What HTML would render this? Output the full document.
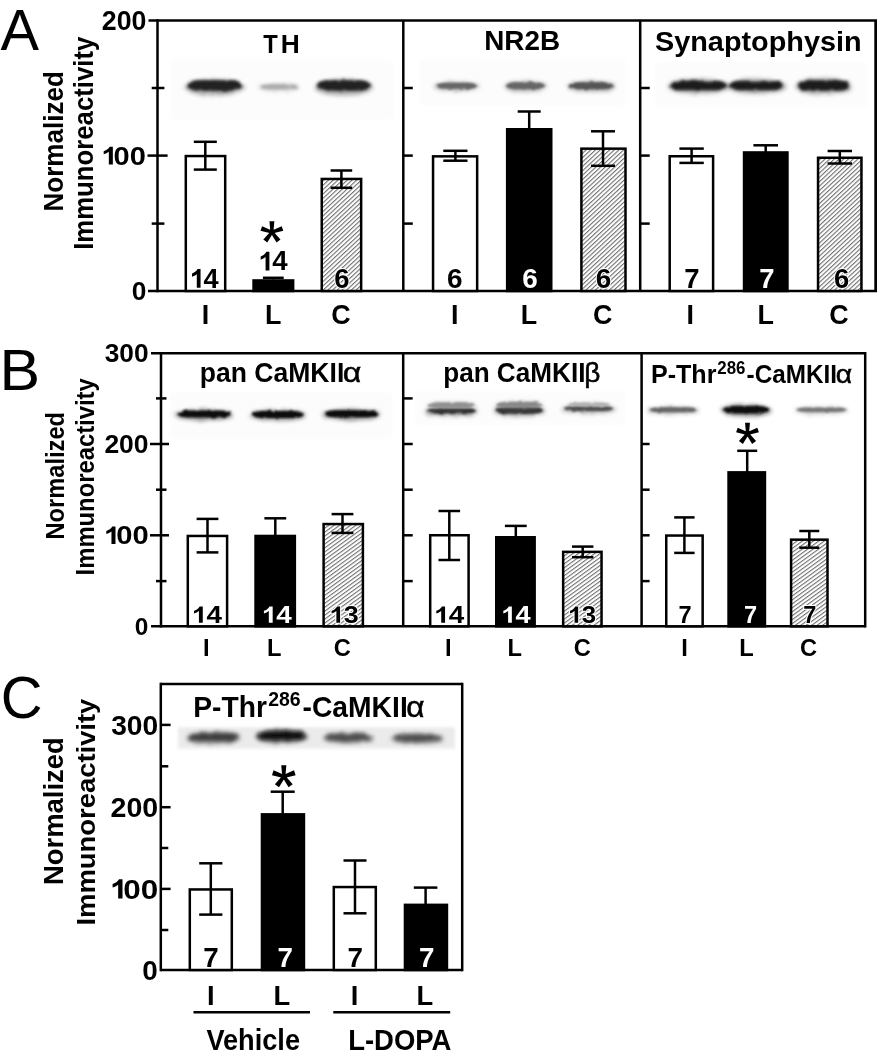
<!DOCTYPE html>
<html><head><meta charset="utf-8"><title>Figure</title>
<style>
html,body{margin:0;padding:0;background:#fff;}
body{width:877px;height:1050px;overflow:hidden;font-family:"Liberation Sans",sans-serif;}
svg{display:block;font-family:"Liberation Sans",sans-serif;}
</style></head><body>
<svg width="877" height="1050" viewBox="0 0 877 1050">
<defs>
<pattern id="hatch" width="3.2" height="3.2" patternUnits="userSpaceOnUse" patternTransform="rotate(-43)">
<rect width="3.2" height="3.2" fill="#fff"/><rect y="0" width="3.2" height="1.1" fill="#707070"/>
</pattern>
<pattern id="hatchB" width="3.2" height="3.2" patternUnits="userSpaceOnUse" patternTransform="rotate(-36)">
<rect width="3.2" height="3.2" fill="#fff"/><rect y="0" width="3.2" height="1.1" fill="#707070"/>
</pattern>
<filter id="soft" filterUnits="userSpaceOnUse" x="0" y="0" width="877" height="1050"><feGaussianBlur stdDeviation="0.55"/></filter>
<filter id="bl2" x="-10%" y="-30%" width="120%" height="160%"><feGaussianBlur stdDeviation="2"/></filter>
<filter id="rough12" x="-20%" y="-300%" width="140%" height="700%"><feTurbulence type="fractalNoise" baseFrequency="0.18 0.35" numOctaves="2" seed="3" result="n"/><feDisplacementMap in="SourceGraphic" in2="n" scale="2.5" xChannelSelector="R" yChannelSelector="G"/><feGaussianBlur stdDeviation="1.0"/></filter>
<filter id="rough15" x="-20%" y="-300%" width="140%" height="700%"><feTurbulence type="fractalNoise" baseFrequency="0.18 0.35" numOctaves="2" seed="5" result="n"/><feDisplacementMap in="SourceGraphic" in2="n" scale="3" xChannelSelector="R" yChannelSelector="G"/><feGaussianBlur stdDeviation="1.2"/></filter>
<filter id="rough20" x="-20%" y="-300%" width="140%" height="700%"><feTurbulence type="fractalNoise" baseFrequency="0.15 0.3" numOctaves="2" seed="7" result="n"/><feDisplacementMap in="SourceGraphic" in2="n" scale="3.5" xChannelSelector="R" yChannelSelector="G"/><feGaussianBlur stdDeviation="1.5"/></filter>
<filter id="rough25" x="-20%" y="-300%" width="140%" height="700%"><feTurbulence type="fractalNoise" baseFrequency="0.15 0.3" numOctaves="2" seed="11" result="n"/><feDisplacementMap in="SourceGraphic" in2="n" scale="4" xChannelSelector="R" yChannelSelector="G"/><feGaussianBlur stdDeviation="1.9"/></filter>
<filter id="bl12" x="-20%" y="-200%" width="140%" height="500%"><feGaussianBlur stdDeviation="1.2"/></filter>
<filter id="bl15" x="-20%" y="-200%" width="140%" height="500%"><feGaussianBlur stdDeviation="1.5"/></filter>
<filter id="bl20" x="-20%" y="-200%" width="140%" height="500%"><feGaussianBlur stdDeviation="2"/></filter>
<filter id="bl25" x="-20%" y="-200%" width="140%" height="500%"><feGaussianBlur stdDeviation="2.5"/></filter>
</defs>
<rect width="877" height="1050" fill="#fff"/>
<g filter="url(#soft)">
<line x1="157.50" y1="19.25" x2="157.50" y2="292.25" stroke="#000" stroke-width="2.5"/>
<line x1="148.50" y1="20.50" x2="877.50" y2="20.50" stroke="#000" stroke-width="2.5"/>
<line x1="148.00" y1="291.00" x2="877.50" y2="291.00" stroke="#000" stroke-width="2.5"/>
<line x1="875.80" y1="20.50" x2="875.80" y2="291.00" stroke="#000" stroke-width="3.0"/>
<line x1="403.30" y1="20.50" x2="403.30" y2="291.00" stroke="#000" stroke-width="2.5"/>
<line x1="640.20" y1="20.50" x2="640.20" y2="291.00" stroke="#000" stroke-width="2.5"/>
<line x1="147.50" y1="155.60" x2="167.60" y2="155.60" stroke="#000" stroke-width="2.5"/>
<line x1="151.70" y1="88.00" x2="164.40" y2="88.00" stroke="#000" stroke-width="2.5"/>
<line x1="151.70" y1="223.60" x2="164.40" y2="223.60" stroke="#000" stroke-width="2.5"/>
<line x1="403.30" y1="88.00" x2="412.80" y2="88.00" stroke="#000" stroke-width="2.5"/>
<line x1="403.30" y1="155.60" x2="412.80" y2="155.60" stroke="#000" stroke-width="2.5"/>
<line x1="403.30" y1="223.60" x2="412.80" y2="223.60" stroke="#000" stroke-width="2.5"/>
<line x1="640.20" y1="88.00" x2="649.70" y2="88.00" stroke="#000" stroke-width="2.5"/>
<line x1="640.20" y1="155.60" x2="649.70" y2="155.60" stroke="#000" stroke-width="2.5"/>
<line x1="640.20" y1="223.60" x2="649.70" y2="223.60" stroke="#000" stroke-width="2.5"/>
<text transform="translate(101.77,30.00) scale(1.0000,1)" font-size="26.74" font-weight="bold" fill="#000">200</text>
<g transform="translate(97.42,164.60) scale(1.1166,1)" fill="#000"><path d="M13.82,0.00 L10.23,0.00 L10.23,-12.93 Q8.27,-11.18 5.62,-10.33 L5.62,-13.43 Q7.02,-13.88 8.66,-15.10 Q10.30,-16.33 10.93,-17.90 L13.82,-17.90 Z"/><text x="14.47" y="0" font-size="26.02" font-weight="bold">00</text></g>
<text transform="translate(131.85,300.30) scale(1.0000,1)" font-size="26.31" font-weight="bold" fill="#000">0</text>
<text transform="translate(62.95,211.54) rotate(-90) scale(0.9486,1)" font-size="27.47" font-weight="bold">Normalized</text>
<text transform="translate(93.25,249.82) rotate(-90) scale(0.9181,1)" font-size="28.05" font-weight="bold">Immunoreactivity</text>
<text transform="translate(0.59,50.00) scale(1.0137,1)" font-size="56.98" font-weight="normal" fill="#000">A</text>
<rect x="170.3" y="60.0" width="223.5" height="59.7" fill="#fcfcfc" filter="url(#bl2)"/>
<ellipse cx="214.8" cy="87.4" rx="29.6" ry="8.2" fill="#222" opacity="0.38" filter="url(#rough25)"/>
<path d="M187.2,85.6 C189.9,80.3 196.2,80.3 201.6,80.3 L227.9,80.3 C233.3,80.3 239.6,80.3 242.3,85.6 C239.6,90.8 233.3,90.8 227.9,90.8 L201.6,90.8 C196.2,90.8 189.9,90.8 187.2,85.6Z" fill="#222" opacity="1" filter="url(#rough20)"/>
<ellipse cx="278.9" cy="87.6" rx="20.6" ry="3.9" fill="#aaa" opacity="0.45" filter="url(#rough25)"/>
<path d="M260.3,86.8 C262.5,84.3 267.5,84.3 271.9,84.3 L285.9,84.3 C290.3,84.3 295.3,84.3 297.5,86.8 C295.3,89.3 290.3,89.3 285.9,89.3 L271.9,89.3 C267.5,89.3 262.5,89.3 260.3,86.8Z" fill="#aaa" opacity="1" filter="url(#rough20)"/>
<ellipse cx="343.7" cy="87.4" rx="29.2" ry="8.2" fill="#222" opacity="0.38" filter="url(#rough25)"/>
<path d="M316.5,85.6 C319.2,80.3 325.5,80.3 330.9,80.3 L356.5,80.3 C361.9,80.3 368.2,80.3 370.9,85.6 C368.2,90.8 361.9,90.8 356.5,90.8 L330.9,90.8 C325.5,90.8 319.2,90.8 316.5,85.6Z" fill="#222" opacity="1" filter="url(#rough20)"/>
<rect x="420.0" y="59.5" width="206.0" height="46.3" fill="#fcfcfc" filter="url(#bl2)"/>
<ellipse cx="456.7" cy="86.5" rx="23.2" ry="4.7" fill="#666" opacity="0.45" filter="url(#rough25)"/>
<path d="M435.5,85.7 C438.0,82.7 443.7,82.7 448.6,82.7 L464.8,82.7 C469.7,82.7 475.4,82.7 477.9,85.7 C475.4,88.7 469.7,88.7 464.8,88.7 L448.6,88.7 C443.7,88.7 438.0,88.7 435.5,85.7Z" fill="#666" opacity="1" filter="url(#rough15)"/>
<ellipse cx="525.4" cy="86.5" rx="21.5" ry="5.5" fill="#666" opacity="0.45" filter="url(#rough25)"/>
<path d="M505.8,85.7 C508.1,82.2 513.4,82.2 517.9,82.2 L532.8,82.2 C537.3,82.2 542.6,82.2 544.9,85.7 C542.6,89.2 537.3,89.2 532.8,89.2 L517.9,89.2 C513.4,89.2 508.1,89.2 505.8,85.7Z" fill="#666" opacity="1" filter="url(#rough15)"/>
<ellipse cx="591.2" cy="86.5" rx="24.4" ry="5.5" fill="#555" opacity="0.45" filter="url(#rough25)"/>
<path d="M568.7,85.7 C571.3,82.2 577.3,82.2 582.5,82.2 L599.8,82.2 C605.0,82.2 611.0,82.2 613.6,85.7 C611.0,89.2 605.0,89.2 599.8,89.2 L582.5,89.2 C577.3,89.2 571.3,89.2 568.7,85.7Z" fill="#555" opacity="1" filter="url(#rough15)"/>
<rect x="655.0" y="62.7" width="212.6" height="44.0" fill="#fcfcfc" filter="url(#bl2)"/>
<ellipse cx="698.5" cy="86.4" rx="30.6" ry="7.4" fill="#1a1a1a" opacity="0.35" filter="url(#rough25)"/>
<path d="M669.9,85.6 C672.6,80.8 678.9,80.8 684.3,80.8 L712.6,80.8 C718.0,80.8 724.3,80.8 727.0,85.6 C724.3,90.3 718.0,90.3 712.6,90.3 L684.3,90.3 C678.9,90.3 672.6,90.3 669.9,85.6Z" fill="#1a1a1a" opacity="1" filter="url(#rough20)"/>
<ellipse cx="756.5" cy="86.4" rx="29.6" ry="7.4" fill="#1a1a1a" opacity="0.35" filter="url(#rough25)"/>
<path d="M729.0,85.6 C731.7,80.8 738.0,80.8 743.4,80.8 L769.7,80.8 C775.1,80.8 781.4,80.8 784.1,85.6 C781.4,90.3 775.1,90.3 769.7,90.3 L743.4,90.3 C738.0,90.3 731.7,90.3 729.0,85.6Z" fill="#1a1a1a" opacity="1" filter="url(#rough20)"/>
<ellipse cx="823.6" cy="86.4" rx="28.4" ry="8.2" fill="#1a1a1a" opacity="0.35" filter="url(#rough25)"/>
<path d="M797.3,85.6 C800.0,80.3 806.3,80.3 811.7,80.3 L835.6,80.3 C841.0,80.3 847.3,80.3 850.0,85.6 C847.3,90.8 841.0,90.8 835.6,90.8 L811.7,90.8 C806.3,90.8 800.0,90.8 797.3,85.6Z" fill="#1a1a1a" opacity="1" filter="url(#rough20)"/>
<text transform="translate(263.33,53.20) scale(0.8938,1)" font-size="26.60" font-weight="bold" fill="#000">T</text>
<text transform="translate(280.74,53.20) scale(0.9912,1)" font-size="26.60" font-weight="bold" fill="#000">H</text>
<text transform="translate(484.13,50.15) scale(1.0206,1)" font-size="27.33" font-weight="bold" fill="#000">NR2B</text>
<text transform="translate(654.97,50.65) scale(1.0789,1)" font-size="26.74" font-weight="bold" fill="#000">Synaptophysin</text>
<rect x="185.80" y="156.05" width="39.40" height="134.95" fill="#fff" stroke="#000" stroke-width="2.5"/>
<rect x="253.55" y="280.45" width="39.60" height="10.55" fill="#000" stroke="#000" stroke-width="2.5"/>
<rect x="321.75" y="178.95" width="39.40" height="112.05" fill="url(#hatch)" stroke="#000" stroke-width="2.5"/>
<line x1="205.30" y1="141.80" x2="205.30" y2="169.60" stroke="#000" stroke-width="2.5"/>
<line x1="193.80" y1="141.80" x2="216.80" y2="141.80" stroke="#000" stroke-width="2.5"/>
<line x1="193.80" y1="169.60" x2="216.80" y2="169.60" stroke="#000" stroke-width="2.5"/>
<line x1="273.30" y1="277.80" x2="273.30" y2="279.40" stroke="#000" stroke-width="2.5"/>
<line x1="262.90" y1="277.80" x2="283.70" y2="277.80" stroke="#000" stroke-width="2.5"/>
<line x1="341.40" y1="170.50" x2="341.40" y2="187.80" stroke="#000" stroke-width="2.5"/>
<line x1="330.60" y1="170.50" x2="352.20" y2="170.50" stroke="#000" stroke-width="2.5"/>
<line x1="330.60" y1="187.80" x2="352.20" y2="187.80" stroke="#000" stroke-width="2.5"/>
<rect x="433.05" y="156.35" width="44.10" height="134.65" fill="#fff" stroke="#000" stroke-width="2.5"/>
<rect x="507.15" y="129.25" width="44.10" height="161.75" fill="#000" stroke="#000" stroke-width="2.5"/>
<rect x="581.40" y="148.65" width="44.10" height="142.35" fill="url(#hatch)" stroke="#000" stroke-width="2.5"/>
<line x1="455.40" y1="150.80" x2="455.40" y2="160.70" stroke="#000" stroke-width="2.5"/>
<line x1="443.30" y1="150.80" x2="467.50" y2="150.80" stroke="#000" stroke-width="2.5"/>
<line x1="443.30" y1="160.70" x2="467.50" y2="160.70" stroke="#000" stroke-width="2.5"/>
<line x1="529.20" y1="111.50" x2="529.20" y2="128.80" stroke="#000" stroke-width="2.5"/>
<line x1="517.70" y1="111.50" x2="540.70" y2="111.50" stroke="#000" stroke-width="2.5"/>
<line x1="603.00" y1="131.30" x2="603.00" y2="165.80" stroke="#000" stroke-width="2.5"/>
<line x1="591.00" y1="131.30" x2="615.00" y2="131.30" stroke="#000" stroke-width="2.5"/>
<line x1="591.00" y1="165.80" x2="615.00" y2="165.80" stroke="#000" stroke-width="2.5"/>
<rect x="669.70" y="156.25" width="43.40" height="134.75" fill="#fff" stroke="#000" stroke-width="2.5"/>
<rect x="744.05" y="152.45" width="43.40" height="138.55" fill="#000" stroke="#000" stroke-width="2.5"/>
<rect x="818.05" y="157.75" width="43.40" height="133.25" fill="url(#hatch)" stroke="#000" stroke-width="2.5"/>
<line x1="691.60" y1="148.60" x2="691.60" y2="162.90" stroke="#000" stroke-width="2.5"/>
<line x1="679.40" y1="148.60" x2="703.80" y2="148.60" stroke="#000" stroke-width="2.5"/>
<line x1="679.40" y1="162.90" x2="703.80" y2="162.90" stroke="#000" stroke-width="2.5"/>
<line x1="765.70" y1="145.30" x2="765.70" y2="152.00" stroke="#000" stroke-width="2.5"/>
<line x1="753.40" y1="145.30" x2="778.00" y2="145.30" stroke="#000" stroke-width="2.5"/>
<line x1="839.80" y1="151.00" x2="839.80" y2="163.50" stroke="#000" stroke-width="2.5"/>
<line x1="827.60" y1="151.00" x2="852.00" y2="151.00" stroke="#000" stroke-width="2.5"/>
<line x1="827.60" y1="163.50" x2="852.00" y2="163.50" stroke="#000" stroke-width="2.5"/>
<g transform="translate(186.13,287.65) scale(0.9995,1)" fill="#000"><path d="M14.43,0.00 L10.68,0.00 L10.68,-13.50 Q8.64,-11.67 5.87,-10.79 L5.87,-14.03 Q7.34,-14.50 9.05,-15.78 Q10.76,-17.05 11.42,-18.70 L14.43,-18.70 Z"/><text x="17.31" y="0" font-size="27.18" font-weight="bold">4</text></g>
<g transform="translate(254.73,270.45) scale(1.0160,1)" fill="#000"><path d="M14.43,0.00 L10.68,0.00 L10.68,-13.50 Q8.64,-11.67 5.87,-10.79 L5.87,-14.03 Q7.34,-14.50 9.05,-15.78 Q10.76,-17.05 11.42,-18.70 L14.43,-18.70 Z"/><text x="17.28" y="0" font-size="27.18" font-weight="bold">4</text></g>
<text transform="translate(334.30,287.75) scale(1.0000,1)" font-size="27.47" font-weight="bold" fill="#000" stroke="#fff" stroke-width="2.0" stroke-linejoin="round" paint-order="stroke">6</text>
<polygon points="273.40,232.10 274.35,221.30 269.45,221.30 270.40,232.10" fill="#000"/>
<polygon points="272.38,230.68 262.09,226.18 260.51,230.82 271.42,233.52" fill="#000"/>
<polygon points="272.38,233.52 283.29,230.82 281.71,226.18 271.42,230.68" fill="#000"/>
<polygon points="270.70,231.21 263.33,239.54 267.27,242.46 273.10,232.99" fill="#000"/>
<polygon points="270.70,232.99 276.53,242.46 280.47,239.54 273.10,231.21" fill="#000"/>
<circle cx="271.90" cy="232.10" r="2.90" fill="#000"/>
<text transform="translate(446.88,287.75) scale(1.0000,1)" font-size="27.91" font-weight="bold" fill="#000">6</text>
<text transform="translate(522.23,287.75) scale(1.0000,1)" font-size="27.91" font-weight="bold" fill="#fff">6</text>
<text transform="translate(595.63,287.75) scale(1.0000,1)" font-size="27.91" font-weight="bold" fill="#000" stroke="#fff" stroke-width="2.0" stroke-linejoin="round" paint-order="stroke">6</text>
<text transform="translate(684.17,288.35) scale(1.0000,1)" font-size="27.47" font-weight="bold" fill="#000">7</text>
<text transform="translate(759.32,288.35) scale(1.0000,1)" font-size="27.47" font-weight="bold" fill="#fff">7</text>
<text transform="translate(834.05,288.35) scale(1.0000,1)" font-size="27.47" font-weight="bold" fill="#000" stroke="#fff" stroke-width="2.0" stroke-linejoin="round" paint-order="stroke">6</text>
<text transform="translate(201.71,324.25) scale(1.0000,1)" font-size="26.89" font-weight="bold" fill="#000">I</text>
<text transform="translate(265.10,324.25) scale(1.0000,1)" font-size="26.89" font-weight="bold" fill="#000">L</text>
<text transform="translate(331.26,324.25) scale(1.0000,1)" font-size="26.89" font-weight="bold" fill="#000">C</text>
<text transform="translate(451.06,324.25) scale(1.0000,1)" font-size="26.89" font-weight="bold" fill="#000">I</text>
<text transform="translate(520.65,324.25) scale(1.0000,1)" font-size="26.89" font-weight="bold" fill="#000">L</text>
<text transform="translate(592.91,324.25) scale(1.0000,1)" font-size="26.89" font-weight="bold" fill="#000">C</text>
<text transform="translate(686.56,324.25) scale(1.0000,1)" font-size="26.89" font-weight="bold" fill="#000">I</text>
<text transform="translate(757.40,324.25) scale(1.0000,1)" font-size="26.89" font-weight="bold" fill="#000">L</text>
<text transform="translate(829.31,324.25) scale(1.0000,1)" font-size="26.89" font-weight="bold" fill="#000">C</text>
<line x1="161.00" y1="352.05" x2="161.00" y2="627.55" stroke="#000" stroke-width="2.5"/>
<line x1="151.00" y1="353.30" x2="865.20" y2="353.30" stroke="#000" stroke-width="2.5"/>
<line x1="151.00" y1="626.30" x2="865.20" y2="626.30" stroke="#000" stroke-width="2.5"/>
<line x1="865.20" y1="352.05" x2="865.20" y2="627.55" stroke="#000" stroke-width="2.5"/>
<line x1="403.20" y1="353.30" x2="403.20" y2="626.30" stroke="#000" stroke-width="2.5"/>
<line x1="641.60" y1="353.30" x2="641.60" y2="626.30" stroke="#000" stroke-width="2.5"/>
<line x1="150.00" y1="444.00" x2="169.00" y2="444.00" stroke="#000" stroke-width="2.5"/>
<line x1="150.00" y1="535.30" x2="169.00" y2="535.30" stroke="#000" stroke-width="2.5"/>
<line x1="156.00" y1="398.40" x2="166.50" y2="398.40" stroke="#000" stroke-width="2.5"/>
<line x1="156.00" y1="489.70" x2="166.50" y2="489.70" stroke="#000" stroke-width="2.5"/>
<line x1="156.00" y1="581.10" x2="166.50" y2="581.10" stroke="#000" stroke-width="2.5"/>
<line x1="403.20" y1="398.40" x2="412.70" y2="398.40" stroke="#000" stroke-width="2.5"/>
<line x1="403.20" y1="444.00" x2="412.70" y2="444.00" stroke="#000" stroke-width="2.5"/>
<line x1="403.20" y1="489.70" x2="412.70" y2="489.70" stroke="#000" stroke-width="2.5"/>
<line x1="403.20" y1="535.30" x2="412.70" y2="535.30" stroke="#000" stroke-width="2.5"/>
<line x1="403.20" y1="581.10" x2="412.70" y2="581.10" stroke="#000" stroke-width="2.5"/>
<line x1="641.60" y1="444.00" x2="649.60" y2="444.00" stroke="#000" stroke-width="2.5"/>
<line x1="641.60" y1="489.70" x2="649.60" y2="489.70" stroke="#000" stroke-width="2.5"/>
<line x1="641.60" y1="535.30" x2="649.60" y2="535.30" stroke="#000" stroke-width="2.5"/>
<line x1="641.60" y1="581.10" x2="649.60" y2="581.10" stroke="#000" stroke-width="2.5"/>
<text transform="translate(104.70,361.60) scale(1.0459,1)" font-size="25.15" font-weight="bold" fill="#000">300</text>
<text transform="translate(104.38,452.60) scale(1.0536,1)" font-size="25.15" font-weight="bold" fill="#000">200</text>
<g transform="translate(99.99,543.90) scale(1.1610,1)" fill="#000"><path d="M13.35,0.00 L9.88,0.00 L9.88,-12.49 Q8.00,-10.80 5.43,-9.98 L5.43,-12.98 Q6.79,-13.41 8.37,-14.59 Q9.96,-15.78 10.56,-17.30 L13.35,-17.30 Z"/><text x="13.98" y="0" font-size="25.15" font-weight="bold">00</text></g>
<text transform="translate(134.68,634.50) scale(1.0000,1)" font-size="24.42" font-weight="bold" fill="#000">0</text>
<text transform="translate(64.00,539.59) rotate(-90) scale(0.9212,1)" font-size="25.73" font-weight="bold">Normalized</text>
<text transform="translate(93.60,575.39) rotate(-90) scale(0.9258,1)" font-size="25.73" font-weight="bold">Immunoreactivity</text>
<text transform="translate(-0.49,390.10) scale(1.0684,1)" font-size="56.98" font-weight="normal" fill="#000">B</text>
<rect x="170.3" y="392.7" width="221.9" height="46.3" fill="#fcfcfc" filter="url(#bl2)"/>
<ellipse cx="204.2" cy="414.9" rx="28.9" ry="5.5" fill="#111" opacity="0.45" filter="url(#rough25)"/>
<path d="M177.3,414.1 C180.0,410.6 186.3,410.6 191.7,410.6 L216.7,410.6 C222.1,410.6 228.4,410.6 231.1,414.1 C228.4,417.6 222.1,417.6 216.7,417.6 L191.7,417.6 C186.3,417.6 180.0,417.6 177.3,414.1Z" fill="#111" opacity="1" filter="url(#rough15)"/>
<ellipse cx="277.8" cy="415.4" rx="28.1" ry="5.5" fill="#111" opacity="0.45" filter="url(#rough25)"/>
<path d="M251.7,414.6 C254.4,411.1 260.7,411.1 266.1,411.1 L289.5,411.1 C294.9,411.1 301.2,411.1 303.9,414.6 C301.2,418.1 294.9,418.1 289.5,418.1 L266.1,418.1 C260.7,418.1 254.4,418.1 251.7,414.6Z" fill="#111" opacity="1" filter="url(#rough15)"/>
<ellipse cx="351.1" cy="414.6" rx="28.9" ry="5.5" fill="#111" opacity="0.45" filter="url(#rough25)"/>
<path d="M324.1,413.8 C326.8,410.3 333.1,410.3 338.5,410.3 L363.6,410.3 C369.0,410.3 375.3,410.3 378.0,413.8 C375.3,417.3 369.0,417.3 363.6,417.3 L338.5,417.3 C333.1,417.3 326.8,417.3 324.1,413.8Z" fill="#111" opacity="1" filter="url(#rough15)"/>
<rect x="415.5" y="391.1" width="209.2" height="33.5" fill="#fcfcfc" filter="url(#bl2)"/>
<ellipse cx="451.5" cy="411.6" rx="26.8" ry="4.3" fill="#2a2a2a" opacity="0.45" filter="url(#rough25)"/>
<path d="M426.6,410.8 C429.3,408.1 435.6,408.1 441.0,408.1 L461.9,408.1 C467.3,408.1 473.6,408.1 476.3,410.8 C473.6,413.6 467.3,413.6 461.9,413.6 L441.0,413.6 C435.6,413.6 429.3,413.6 426.6,410.8Z" fill="#2a2a2a" opacity="1" filter="url(#rough15)"/>
<ellipse cx="451.5" cy="406.0" rx="26.0" ry="4.7" fill="#909090" opacity="0.25" filter="url(#rough25)"/>
<path d="M427.5,405.2 C430.2,402.2 436.5,402.2 441.9,402.2 L461.1,402.2 C466.5,402.2 472.8,402.2 475.5,405.2 C472.8,408.2 466.5,408.2 461.1,408.2 L441.9,408.2 C436.5,408.2 430.2,408.2 427.5,405.2Z" fill="#909090" opacity="1" filter="url(#rough15)"/>
<ellipse cx="519.4" cy="411.0" rx="26.0" ry="5.5" fill="#333" opacity="0.45" filter="url(#rough25)"/>
<path d="M495.3,410.2 C498.0,406.7 504.3,406.7 509.7,406.7 L529.0,406.7 C534.4,406.7 540.7,406.7 543.4,410.2 C540.7,413.7 534.4,413.7 529.0,413.7 L509.7,413.7 C504.3,413.7 498.0,413.7 495.3,410.2Z" fill="#333" opacity="1" filter="url(#rough15)"/>
<ellipse cx="519.2" cy="405.6" rx="25.2" ry="4.7" fill="#888" opacity="0.25" filter="url(#rough25)"/>
<path d="M496.0,404.8 C498.7,401.8 504.9,401.8 510.3,401.8 L528.2,401.8 C533.6,401.8 539.8,401.8 542.5,404.8 C539.8,407.8 533.6,407.8 528.2,407.8 L510.3,407.8 C504.9,407.8 498.7,407.8 496.0,404.8Z" fill="#888" opacity="1" filter="url(#rough15)"/>
<ellipse cx="588.8" cy="409.4" rx="26.9" ry="3.9" fill="#4a4a4a" opacity="0.45" filter="url(#rough25)"/>
<path d="M563.9,408.6 C566.6,406.1 572.9,406.1 578.3,406.1 L599.2,406.1 C604.6,406.1 610.9,406.1 613.6,408.6 C610.9,411.1 604.6,411.1 599.2,411.1 L578.3,411.1 C572.9,411.1 566.6,411.1 563.9,408.6Z" fill="#4a4a4a" opacity="1" filter="url(#rough15)"/>
<ellipse cx="589.0" cy="405.3" rx="23.5" ry="3.1" fill="#b0b0b0" opacity="0.2" filter="url(#rough25)"/>
<path d="M567.5,404.5 C570.0,402.5 575.8,402.5 580.7,402.5 L597.3,402.5 C602.2,402.5 608.0,402.5 610.5,404.5 C608.0,406.5 602.2,406.5 597.3,406.5 L580.7,406.5 C575.8,406.5 570.0,406.5 567.5,404.5Z" fill="#b0b0b0" opacity="1" filter="url(#rough15)"/>
<ellipse cx="673.5" cy="410.5" rx="26.2" ry="3.9" fill="#666" opacity="0.45" filter="url(#rough25)"/>
<path d="M649.3,409.7 C652.0,407.2 658.3,407.2 663.7,407.2 L683.2,407.2 C688.6,407.2 694.9,407.2 697.6,409.7 C694.9,412.2 688.6,412.2 683.2,412.2 L663.7,412.2 C658.3,412.2 652.0,412.2 649.3,409.7Z" fill="#666" opacity="1" filter="url(#rough12)"/>
<ellipse cx="746.0" cy="410.5" rx="25.4" ry="5.9" fill="#111" opacity="0.45" filter="url(#rough25)"/>
<path d="M722.6,409.7 C725.3,405.9 731.6,405.9 736.9,405.9 L755.1,405.9 C760.4,405.9 766.7,405.9 769.4,409.7 C766.7,413.4 760.4,413.4 755.1,413.4 L736.9,413.4 C731.6,413.4 725.3,413.4 722.6,409.7Z" fill="#111" opacity="1" filter="url(#rough15)"/>
<ellipse cx="821.5" cy="410.5" rx="27.6" ry="3.5" fill="#777" opacity="0.45" filter="url(#rough25)"/>
<path d="M795.9,409.7 C798.6,407.4 804.9,407.4 810.3,407.4 L832.7,407.4 C838.1,407.4 844.4,407.4 847.1,409.7 C844.4,411.9 838.1,411.9 832.7,411.9 L810.3,411.9 C804.9,411.9 798.6,411.9 795.9,409.7Z" fill="#777" opacity="1" filter="url(#rough12)"/>
<text transform="translate(199.85,382.15) scale(0.9655,1)" font-size="27.47" font-weight="bold" fill="#000">pan CaMKII</text>
<text transform="translate(342.65,382.15) scale(1.1696,1)" font-size="27.47" font-weight="normal" stroke="#000" stroke-width="0.5">α</text>
<text transform="translate(443.18,381.55) scale(0.9512,1)" font-size="27.47" font-weight="bold" fill="#000">pan CaMKII</text>
<text transform="translate(584.2,381.55) scale(1.02,1)" font-size="27.47" font-weight="normal" stroke="#000" stroke-width="0.5">β</text>
<text transform="translate(650.92,383.15) scale(0.9440,1)" font-size="26.60" font-weight="bold" fill="#000">P-Thr</text>
<text transform="translate(717.31,374.25) scale(0.9453,1)" font-size="17.88" font-weight="bold" fill="#000">286</text>
<text transform="translate(746.55,383.15) scale(0.9138,1)" font-size="26.60" font-weight="bold" fill="#000">-CaMKII</text>
<text transform="translate(835.71,383.15) scale(1.0671,1)" font-size="26.60" font-weight="normal" stroke="#000" stroke-width="0.5">α</text>
<polygon points="749.00,433.60 749.95,422.80 745.05,422.80 746.00,433.60" fill="#000"/>
<polygon points="747.98,432.18 737.69,427.68 736.11,432.32 747.02,435.02" fill="#000"/>
<polygon points="747.98,435.02 758.89,432.32 757.31,427.68 747.02,432.18" fill="#000"/>
<polygon points="746.30,432.71 738.93,441.04 742.87,443.96 748.70,434.49" fill="#000"/>
<polygon points="746.30,434.49 752.13,443.96 756.07,441.04 748.70,432.71" fill="#000"/>
<circle cx="747.50" cy="433.60" r="2.90" fill="#000"/>
<rect x="187.80" y="535.95" width="39.30" height="90.35" fill="#fff" stroke="#000" stroke-width="2.5"/>
<rect x="255.55" y="535.95" width="39.30" height="90.35" fill="#000" stroke="#000" stroke-width="2.5"/>
<rect x="323.60" y="524.05" width="39.30" height="102.25" fill="url(#hatchB)" stroke="#000" stroke-width="2.5"/>
<line x1="207.50" y1="518.90" x2="207.50" y2="552.40" stroke="#000" stroke-width="2.5"/>
<line x1="196.60" y1="518.90" x2="218.40" y2="518.90" stroke="#000" stroke-width="2.5"/>
<line x1="196.60" y1="552.40" x2="218.40" y2="552.40" stroke="#000" stroke-width="2.5"/>
<line x1="275.30" y1="518.30" x2="275.30" y2="535.50" stroke="#000" stroke-width="2.5"/>
<line x1="264.40" y1="518.30" x2="286.20" y2="518.30" stroke="#000" stroke-width="2.5"/>
<line x1="342.50" y1="514.10" x2="342.50" y2="532.90" stroke="#000" stroke-width="2.5"/>
<line x1="331.60" y1="514.10" x2="353.40" y2="514.10" stroke="#000" stroke-width="2.5"/>
<line x1="331.60" y1="532.90" x2="353.40" y2="532.90" stroke="#000" stroke-width="2.5"/>
<rect x="430.20" y="535.25" width="38.40" height="91.05" fill="#fff" stroke="#000" stroke-width="2.5"/>
<rect x="496.25" y="537.25" width="38.40" height="89.05" fill="#000" stroke="#000" stroke-width="2.5"/>
<rect x="563.15" y="551.85" width="38.40" height="74.45" fill="url(#hatchB)" stroke="#000" stroke-width="2.5"/>
<line x1="449.30" y1="511.00" x2="449.30" y2="560.00" stroke="#000" stroke-width="2.5"/>
<line x1="438.50" y1="511.00" x2="460.10" y2="511.00" stroke="#000" stroke-width="2.5"/>
<line x1="438.50" y1="560.00" x2="460.10" y2="560.00" stroke="#000" stroke-width="2.5"/>
<line x1="515.80" y1="525.90" x2="515.80" y2="536.80" stroke="#000" stroke-width="2.5"/>
<line x1="504.90" y1="525.90" x2="526.70" y2="525.90" stroke="#000" stroke-width="2.5"/>
<line x1="582.70" y1="546.60" x2="582.70" y2="557.20" stroke="#000" stroke-width="2.5"/>
<line x1="572.00" y1="546.60" x2="593.40" y2="546.60" stroke="#000" stroke-width="2.5"/>
<line x1="572.00" y1="557.20" x2="593.40" y2="557.20" stroke="#000" stroke-width="2.5"/>
<rect x="666.25" y="535.55" width="36.40" height="90.75" fill="#fff" stroke="#000" stroke-width="2.5"/>
<rect x="728.55" y="472.35" width="36.40" height="153.95" fill="#000" stroke="#000" stroke-width="2.5"/>
<rect x="791.10" y="539.65" width="36.40" height="86.65" fill="url(#hatchB)" stroke="#000" stroke-width="2.5"/>
<line x1="684.40" y1="517.40" x2="684.40" y2="552.90" stroke="#000" stroke-width="2.5"/>
<line x1="674.20" y1="517.40" x2="694.60" y2="517.40" stroke="#000" stroke-width="2.5"/>
<line x1="674.20" y1="552.90" x2="694.60" y2="552.90" stroke="#000" stroke-width="2.5"/>
<line x1="747.20" y1="450.80" x2="747.20" y2="471.90" stroke="#000" stroke-width="2.5"/>
<line x1="737.20" y1="450.80" x2="757.20" y2="450.80" stroke="#000" stroke-width="2.5"/>
<line x1="809.30" y1="531.00" x2="809.30" y2="547.70" stroke="#000" stroke-width="2.5"/>
<line x1="799.30" y1="531.00" x2="819.30" y2="531.00" stroke="#000" stroke-width="2.5"/>
<line x1="799.30" y1="547.70" x2="819.30" y2="547.70" stroke="#000" stroke-width="2.5"/>
<g transform="translate(187.99,622.80) scale(1.1824,1)" fill="#000"><path d="M12.50,0.00 L9.25,0.00 L9.25,-11.70 Q7.49,-10.11 5.09,-9.34 L5.09,-12.15 Q6.36,-12.56 7.84,-13.67 Q9.32,-14.77 9.89,-16.20 L12.50,-16.20 Z"/><text x="15.63" y="0" font-size="23.55" font-weight="bold">4</text></g>
<g transform="translate(257.89,622.80) scale(1.1824,1)" fill="#fff"><path d="M12.50,0.00 L9.25,0.00 L9.25,-11.70 Q7.49,-10.11 5.09,-9.34 L5.09,-12.15 Q6.36,-12.56 7.84,-13.67 Q9.32,-14.77 9.89,-16.20 L12.50,-16.20 Z"/><text x="15.63" y="0" font-size="23.55" font-weight="bold">4</text></g>
<g transform="translate(325.77,622.80) scale(1.1456,1)" fill="#000" stroke="#fff" stroke-width="2.0" stroke-linejoin="round" paint-order="stroke"><path d="M12.50,0.00 L9.25,0.00 L9.25,-11.70 Q7.49,-10.11 5.09,-9.34 L5.09,-12.15 Q6.36,-12.56 7.84,-13.67 Q9.32,-14.77 9.89,-16.20 L12.50,-16.20 Z"/><text x="15.71" y="0" font-size="23.55" font-weight="bold">3</text></g>
<g transform="translate(430.29,622.80) scale(1.1824,1)" fill="#000"><path d="M12.50,0.00 L9.25,0.00 L9.25,-11.70 Q7.49,-10.11 5.09,-9.34 L5.09,-12.15 Q6.36,-12.56 7.84,-13.67 Q9.32,-14.77 9.89,-16.20 L12.50,-16.20 Z"/><text x="15.63" y="0" font-size="23.55" font-weight="bold">4</text></g>
<g transform="translate(497.43,622.80) scale(1.1537,1)" fill="#fff"><path d="M12.50,0.00 L9.25,0.00 L9.25,-11.70 Q7.49,-10.11 5.09,-9.34 L5.09,-12.15 Q6.36,-12.56 7.84,-13.67 Q9.32,-14.77 9.89,-16.20 L12.50,-16.20 Z"/><text x="15.69" y="0" font-size="23.55" font-weight="bold">4</text></g>
<g transform="translate(564.40,622.80) scale(1.1012,1)" fill="#000" stroke="#fff" stroke-width="2.0" stroke-linejoin="round" paint-order="stroke"><path d="M12.50,0.00 L9.25,0.00 L9.25,-11.70 Q7.49,-10.11 5.09,-9.34 L5.09,-12.15 Q6.36,-12.56 7.84,-13.67 Q9.32,-14.77 9.89,-16.20 L12.50,-16.20 Z"/><text x="15.82" y="0" font-size="23.55" font-weight="bold">3</text></g>
<text transform="translate(678.61,622.80) scale(1.0000,1)" font-size="23.55" font-weight="bold" fill="#000">7</text>
<text transform="translate(744.01,622.80) scale(1.0000,1)" font-size="23.55" font-weight="bold" fill="#fff">7</text>
<text transform="translate(803.21,622.80) scale(1.0000,1)" font-size="23.55" font-weight="bold" fill="#000" stroke="#fff" stroke-width="2.0" stroke-linejoin="round" paint-order="stroke">7</text>
<text transform="translate(203.11,655.60) scale(1.0000,1)" font-size="23.69" font-weight="bold" fill="#000">I</text>
<text transform="translate(266.89,655.60) scale(1.0000,1)" font-size="23.69" font-weight="bold" fill="#000">L</text>
<text transform="translate(333.68,655.60) scale(1.0000,1)" font-size="23.69" font-weight="bold" fill="#000">C</text>
<text transform="translate(445.11,655.60) scale(1.0000,1)" font-size="23.69" font-weight="bold" fill="#000">I</text>
<text transform="translate(507.49,655.60) scale(1.0000,1)" font-size="23.69" font-weight="bold" fill="#000">L</text>
<text transform="translate(573.78,655.60) scale(1.0000,1)" font-size="23.69" font-weight="bold" fill="#000">C</text>
<text transform="translate(681.21,655.60) scale(1.0000,1)" font-size="23.69" font-weight="bold" fill="#000">I</text>
<text transform="translate(739.34,655.60) scale(1.0000,1)" font-size="23.69" font-weight="bold" fill="#000">L</text>
<text transform="translate(799.98,655.60) scale(1.0000,1)" font-size="23.69" font-weight="bold" fill="#000">C</text>
<line x1="160.80" y1="682.65" x2="160.80" y2="971.25" stroke="#000" stroke-width="2.5"/>
<line x1="160.80" y1="683.90" x2="462.20" y2="683.90" stroke="#000" stroke-width="2.5"/>
<line x1="160.80" y1="970.00" x2="462.20" y2="970.00" stroke="#000" stroke-width="2.5"/>
<line x1="462.20" y1="682.65" x2="462.20" y2="971.25" stroke="#000" stroke-width="2.5"/>
<line x1="160.80" y1="724.90" x2="170.60" y2="724.90" stroke="#000" stroke-width="2.5"/>
<line x1="160.80" y1="807.20" x2="170.60" y2="807.20" stroke="#000" stroke-width="2.5"/>
<line x1="160.80" y1="888.90" x2="170.60" y2="888.90" stroke="#000" stroke-width="2.5"/>
<line x1="160.80" y1="766.30" x2="168.30" y2="766.30" stroke="#000" stroke-width="2.5"/>
<line x1="160.80" y1="848.00" x2="168.30" y2="848.00" stroke="#000" stroke-width="2.5"/>
<line x1="160.80" y1="930.00" x2="168.30" y2="930.00" stroke="#000" stroke-width="2.5"/>
<text transform="translate(111.15,734.50) scale(1.0094,1)" font-size="27.91" font-weight="bold" fill="#000">300</text>
<text transform="translate(110.51,816.80) scale(1.0236,1)" font-size="27.91" font-weight="bold" fill="#000">200</text>
<g transform="translate(105.80,898.50) scale(1.1273,1)" fill="#000"><path d="M14.82,0.00 L10.97,0.00 L10.97,-13.86 Q8.87,-11.99 6.03,-11.08 L6.03,-14.40 Q7.54,-14.88 9.29,-16.20 Q11.05,-17.51 11.72,-19.20 L14.82,-19.20 Z"/><text x="15.52" y="0" font-size="27.91" font-weight="bold">00</text></g>
<text transform="translate(142.26,980.00) scale(1.0000,1)" font-size="27.91" font-weight="bold" fill="#000">0</text>
<text transform="translate(63.40,884.93) rotate(-90) scale(1.0249,1)" font-size="26.74" font-weight="bold">Normalized</text>
<text transform="translate(94.70,925.53) rotate(-90) scale(1.0896,1)" font-size="25.15" font-weight="bold">Immunoreactivity</text>
<text transform="translate(0.66,718.00) scale(0.9893,1)" font-size="58.58" font-weight="normal" fill="#000">C</text>
<rect x="178.0" y="727.2" width="277.0" height="21.4" fill="#ebebeb" filter="url(#bl15)"/>
<ellipse cx="213.4" cy="738.0" rx="27.3" ry="6.2" fill="#3a3a3a" opacity="0.4" filter="url(#rough25)"/>
<path d="M188.1,737.2 C190.8,733.2 197.1,733.2 202.5,733.2 L224.3,733.2 C229.7,733.2 236.0,733.2 238.7,737.2 C236.0,741.2 229.7,741.2 224.3,741.2 L202.5,741.2 C197.1,741.2 190.8,741.2 188.1,737.2Z" fill="#3a3a3a" opacity="1" filter="url(#rough25)"/>
<ellipse cx="281.4" cy="736.6" rx="26.9" ry="7.0" fill="#0a0a0a" opacity="0.4" filter="url(#rough25)"/>
<path d="M256.5,735.8 C259.2,731.3 265.5,731.3 270.9,731.3 L292.0,731.3 C297.4,731.3 303.7,731.3 306.4,735.8 C303.7,740.3 297.4,740.3 292.0,740.3 L270.9,740.3 C265.5,740.3 259.2,740.3 256.5,735.8Z" fill="#0a0a0a" opacity="1" filter="url(#rough25)"/>
<ellipse cx="348.5" cy="738.2" rx="25.6" ry="5.5" fill="#4a4a4a" opacity="0.4" filter="url(#rough25)"/>
<path d="M324.9,737.4 C327.6,733.9 333.9,733.9 339.3,733.9 L357.7,733.9 C363.1,733.9 369.4,733.9 372.1,737.4 C369.4,740.9 363.1,740.9 357.7,740.9 L339.3,740.9 C333.9,740.9 327.6,740.9 324.9,737.4Z" fill="#4a4a4a" opacity="1" filter="url(#rough25)"/>
<ellipse cx="417.8" cy="738.8" rx="26.4" ry="5.5" fill="#4a4a4a" opacity="0.4" filter="url(#rough25)"/>
<path d="M393.3,738.0 C396.0,734.5 402.3,734.5 407.7,734.5 L427.8,734.5 C433.2,734.5 439.5,734.5 442.2,738.0 C439.5,741.5 433.2,741.5 427.8,741.5 L407.7,741.5 C402.3,741.5 396.0,741.5 393.3,738.0Z" fill="#4a4a4a" opacity="1" filter="url(#rough25)"/>
<text transform="translate(193.31,716.65) scale(0.9326,1)" font-size="30.23" font-weight="bold" fill="#000">P-Thr</text>
<text transform="translate(268.23,705.65) scale(0.9920,1)" font-size="19.62" font-weight="bold" fill="#000">286</text>
<text transform="translate(302.49,716.65) scale(0.9357,1)" font-size="30.23" font-weight="bold" fill="#000">-CaMKII</text>
<text transform="translate(406.27,716.65) scale(1.0497,1)" font-size="30.23" font-weight="normal" stroke="#000" stroke-width="0.5">α</text>
<polygon points="285.36,776.52 286.35,765.30 281.25,765.30 282.24,776.52" fill="#000"/>
<polygon points="284.30,775.05 273.60,770.37 271.97,775.19 283.30,778.00" fill="#000"/>
<polygon points="284.30,778.00 295.63,775.19 294.00,770.37 283.30,775.05" fill="#000"/>
<polygon points="282.55,775.59 274.90,784.25 278.99,787.29 285.05,777.45" fill="#000"/>
<polygon points="282.55,777.45 288.61,787.29 292.70,784.25 285.05,775.59" fill="#000"/>
<circle cx="283.80" cy="776.52" r="3.01" fill="#000"/>
<rect x="189.80" y="889.45" width="42.00" height="80.55" fill="#fff" stroke="#000" stroke-width="2.5"/>
<rect x="261.95" y="814.35" width="42.00" height="155.65" fill="#000" stroke="#000" stroke-width="2.5"/>
<rect x="333.80" y="887.05" width="42.00" height="82.95" fill="#fff" stroke="#000" stroke-width="2.5"/>
<rect x="404.95" y="904.85" width="42.00" height="65.15" fill="#000" stroke="#000" stroke-width="2.5"/>
<line x1="210.80" y1="863.30" x2="210.80" y2="914.60" stroke="#000" stroke-width="2.5"/>
<line x1="199.20" y1="863.30" x2="222.40" y2="863.30" stroke="#000" stroke-width="2.5"/>
<line x1="199.20" y1="914.60" x2="222.40" y2="914.60" stroke="#000" stroke-width="2.5"/>
<line x1="282.70" y1="791.70" x2="282.70" y2="813.90" stroke="#000" stroke-width="2.5"/>
<line x1="270.70" y1="791.70" x2="294.70" y2="791.70" stroke="#000" stroke-width="2.5"/>
<line x1="355.00" y1="860.50" x2="355.00" y2="913.30" stroke="#000" stroke-width="2.5"/>
<line x1="343.50" y1="860.50" x2="366.50" y2="860.50" stroke="#000" stroke-width="2.5"/>
<line x1="343.50" y1="913.30" x2="366.50" y2="913.30" stroke="#000" stroke-width="2.5"/>
<line x1="425.60" y1="887.60" x2="425.60" y2="904.40" stroke="#000" stroke-width="2.5"/>
<line x1="413.80" y1="887.60" x2="437.40" y2="887.60" stroke="#000" stroke-width="2.5"/>
<text transform="translate(203.19,967.45) scale(1.0000,1)" font-size="27.76" font-weight="bold" fill="#000">7</text>
<text transform="translate(277.49,967.45) scale(1.0000,1)" font-size="27.76" font-weight="bold" fill="#fff">7</text>
<text transform="translate(347.59,967.45) scale(1.0000,1)" font-size="27.76" font-weight="bold" fill="#000">7</text>
<text transform="translate(419.09,967.45) scale(1.0000,1)" font-size="27.76" font-weight="bold" fill="#fff">7</text>
<text transform="translate(207.00,1005.15) scale(1.0000,1)" font-size="27.33" font-weight="bold" fill="#000">I</text>
<text transform="translate(273.46,1005.15) scale(1.0000,1)" font-size="27.33" font-weight="bold" fill="#000">L</text>
<text transform="translate(350.85,1005.15) scale(1.0000,1)" font-size="27.33" font-weight="bold" fill="#000">I</text>
<text transform="translate(416.61,1005.15) scale(1.0000,1)" font-size="27.33" font-weight="bold" fill="#000">L</text>
<line x1="193.50" y1="1012.20" x2="310.00" y2="1012.20" stroke="#000" stroke-width="2.5"/>
<line x1="333.30" y1="1012.20" x2="450.20" y2="1012.20" stroke="#000" stroke-width="2.5"/>
<text transform="translate(206.41,1050.40) scale(0.9115,1)" font-size="29.80" font-weight="bold" fill="#000">Vehicle</text>
<text transform="translate(348.16,1050.40) scale(0.9225,1)" font-size="29.80" font-weight="bold" fill="#000">L-DOPA</text>
</g>
</svg>
</body></html>
